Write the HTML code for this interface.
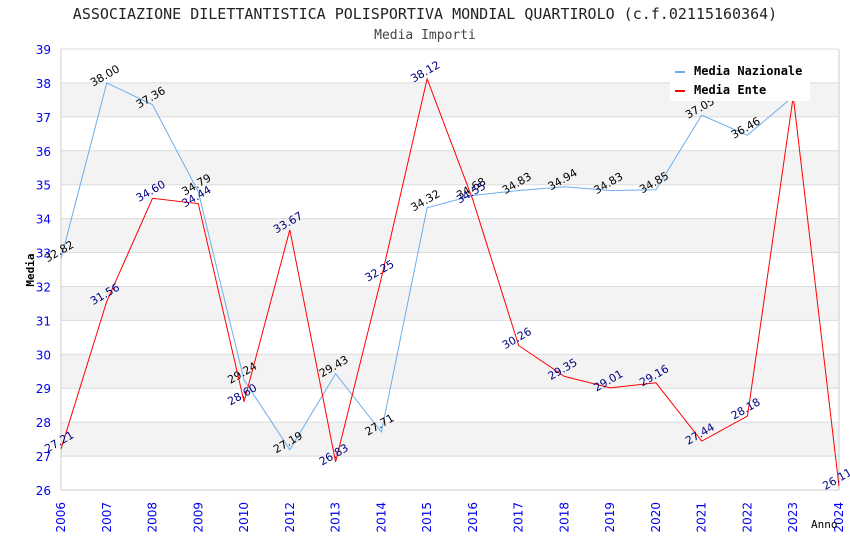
<!DOCTYPE html>
<html><head><meta charset="utf-8"><style>body{margin:0;background:#fff}svg{display:block}text{font-family:"DejaVu Sans Mono","Liberation Mono",monospace}</style></head>
<body>
<svg id="c" width="850" height="550"></svg>
<script>
const categories=["2006","2007","2008","2009","2010","2012","2013","2014","2015","2016","2017","2018","2019","2020","2021","2022","2023","2024"];
const nazionale=[32.82,38.00,37.36,34.79,29.24,27.19,29.43,27.71,34.32,34.68,34.83,34.94,34.83,34.85,37.05,36.46,37.60,null];
const ente=[27.21,31.56,34.60,34.44,28.60,33.67,26.83,32.25,38.12,34.55,30.26,29.35,29.01,29.16,27.44,28.18,37.60,26.11];
const yTicks=[26,27,28,29,30,31,32,33,34,35,36,37,38,39];
const NS="http://www.w3.org/2000/svg",svg=document.getElementById('c');
const L=61,R=839,T=49,B=490,yMin=26,yMax=39;
const x=i=>L+i*(R-L)/(categories.length-1);
const y=v=>B-(v-yMin)*(B-T)/(yMax-yMin);
const SANS='font-family:"DejaVu Sans","Liberation Sans",sans-serif';
function mk(t,a,p){const e=document.createElementNS(NS,t);for(const k in a)e.setAttribute(k,a[k]);(p||svg).appendChild(e);return e;}
for(let v=27;v<39;v+=2){const r=mk('rect',{x:L,y:y(v+1),width:R-L,height:y(v)-y(v+1),fill:'#f3f3f3'});

}
yTicks.forEach(v=>{const g=mk('line',{x1:L,x2:R,y1:y(v),y2:y(v),stroke:'#dcdcdc'});


const t=mk('text',{x:L-10,y:y(v)+5,'text-anchor':'end',fill:'#0000ee','font-size':12,style:SANS});t.textContent=v;

});
mk('line',{x1:L,x2:L,y1:T,y2:B,stroke:'#ccc'});mk('line',{x1:R,x2:R,y1:T,y2:B,stroke:'#ccc'});mk('line',{x1:L,x2:R,y1:B,y2:B,stroke:'#ccc'});
categories.forEach((c,i)=>{const t=mk('text',{transform:`translate(${x(i)+4},502) rotate(-90)`,'text-anchor':'end',fill:'#0000ee','font-size':12,style:SANS});t.textContent=c;

});
function series(d,col,lc,name){let pts=[];d.forEach((v,i)=>{if(v!=null)pts.push(x(i)+','+y(v));});
const p=mk('polyline',{points:pts.join(' '),fill:'none',stroke:col,'stroke-width':1});


d.forEach((v,i)=>{if(v==null)return;const t=mk('text',{transform:`translate(${x(i)},${y(v)-4}) rotate(-30)`,'text-anchor':'middle',fill:lc,'font-size':11,style:SANS});t.textContent=v.toFixed(2);

});}
series(nazionale,'#6aaeee','#000','nazionale');
series(ente,'#ff0000','#000080','ente');
const lg=mk('g',{});
mk('rect',{x:670,y:59,width:140,height:42,fill:'#fff'},lg);
mk('rect',{x:675,y:71,width:10,height:2,fill:'#6aaeee'},lg);
mk('rect',{x:675,y:90,width:10,height:2,fill:'#f00'},lg);
let t1=mk('text',{x:694,y:75,'font-size':12,'font-weight':'bold'},lg);t1.textContent='Media Nazionale';


let t2=mk('text',{x:694,y:94,'font-size':12,'font-weight':'bold'},lg);t2.textContent='Media Ente';


let ti=mk('text',{x:425,y:19,'text-anchor':'middle','font-size':15,fill:'#222'});ti.textContent='ASSOCIAZIONE DILETTANTISTICA POLISPORTIVA MONDIAL QUARTIROLO (c.f.02115160364)';


let st=mk('text',{x:425,y:39,'text-anchor':'middle','font-size':13,fill:'#444'});st.textContent='Media Importi';


let yt=mk('text',{transform:'translate(34,270) rotate(-90)','text-anchor':'middle','font-size':11,'font-weight':'bold'});yt.textContent='Media';


let xt=mk('text',{x:811,y:528,'font-size':11});xt.textContent='Anno';


</script>
</body></html>
